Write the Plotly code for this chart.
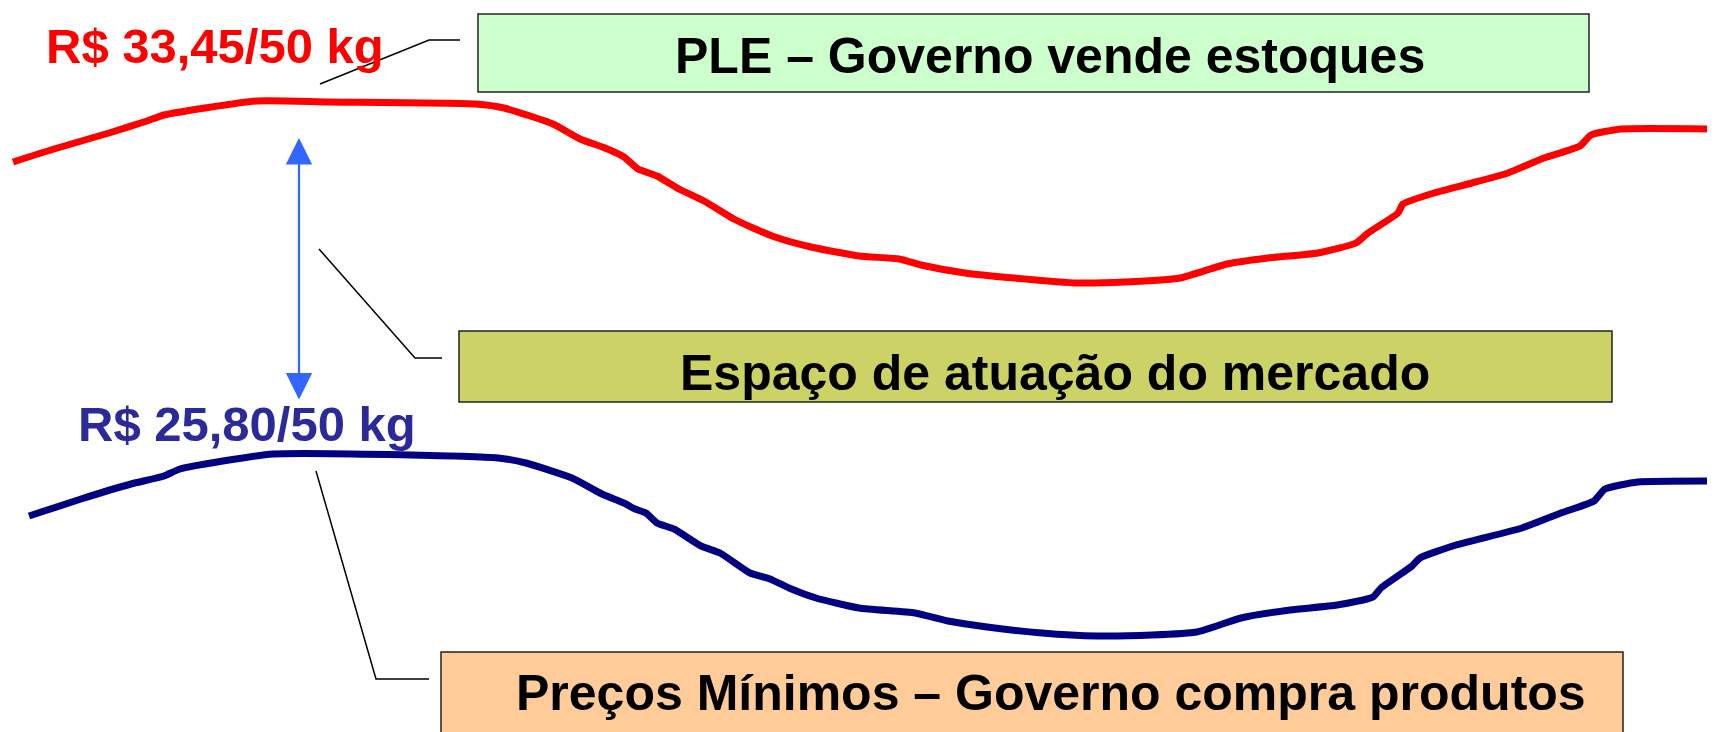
import plotly.graph_objects as go

# ---- data (x = horizontal position, y = price level, up = higher) ----
red_x = [14, 55, 110, 148, 165, 258, 329, 477, 505, 554, 581, 606, 625, 639, 658, 680, 705,
         735, 754, 779, 812, 860, 900, 922, 966, 1015, 1079, 1126, 1181, 1228, 1269, 1319,
         1357, 1369, 1399, 1404, 1435, 1473, 1509, 1545, 1581, 1592, 1622, 1713]
red_y = [571, 584, 600, 612, 618, 632, 631, 629, 625, 609, 594, 585, 576, 564, 557, 544, 532,
         514, 505, 495, 486, 477, 474, 468, 460, 455, 450, 451, 455, 469, 475, 480,
         490, 500, 520, 529, 540, 550, 560, 575, 587, 598, 604, 604]

blue_x = [30, 82, 132, 165, 181, 274, 499, 527, 573, 603, 625, 636, 647, 658, 675, 702, 721,
          751, 771, 790, 817, 860, 916, 949, 988, 1043, 1098, 1153, 1198, 1242, 1291, 1338,
          1374, 1382, 1413, 1421, 1457, 1523, 1562, 1595, 1606, 1639, 1730]
blue_y = [217, 234, 249, 257, 264, 279, 275, 270, 255, 239, 230, 224, 220, 210, 204, 187, 180,
          160, 154, 145, 135, 125, 120, 112, 106, 100, 97, 98, 101, 115, 123, 128,
          136, 145, 167, 175, 188, 205, 220, 232, 244, 251, 252]

label_top = "R$ 33,45/50 kg"
label_bottom = "R$ 25,80/50 kg"
box_texts = ["PLE – Governo vende estoques",
             "Espaço de atuação do mercado",
             "Preços Mínimos – Governo compra produtos"]

W, H = 1715, 732
FONT = "Arial, Liberation Sans, Helvetica, sans-serif"

fig = go.Figure()
fig.add_trace(go.Scatter(x=red_x, y=red_y, mode="lines",
                         line=dict(color="#FF0000", width=7, shape="spline", smoothing=0.5),
                         hoverinfo="skip", showlegend=False))
fig.add_trace(go.Scatter(x=blue_x, y=blue_y, mode="lines",
                         line=dict(color="#000080", width=7, shape="spline", smoothing=0.5),
                         hoverinfo="skip", showlegend=False))

# boxes
boxes = [
    dict(x0=479, x1=1590, y0=641, y1=719, fill="#CCFFCC", tx=1051, ty=677),
    dict(x0=460, x1=1613, y0=331, y1=402, fill="#CCD266", tx=1056, ty=360),
    dict(x0=442, x1=1624, y0=-20, y1=81, fill="#FFCC99", tx=1052, ty=40),
]
shapes = []
annotations = []
for b, t in zip(boxes, box_texts):
    shapes.append(dict(type="rect", xref="x", yref="y", x0=b["x0"], x1=b["x1"], y0=b["y0"], y1=b["y1"],
                       fillcolor=b["fill"], line=dict(color="#222222", width=1.5), layer="below"))
    annotations.append(dict(x=b["tx"], y=b["ty"], xref="x", yref="y", text="<b>" + t + "</b>",
                            showarrow=False, font=dict(family=FONT, size=50, color="#000000")))

# leader lines
shapes.append(dict(type="path", xref="x", yref="y", path="M 321 649 L 430 693 L 461 693",
                   line=dict(color="#000000", width=1.5)))
shapes.append(dict(type="path", xref="x", yref="y", path="M 320 484 L 416 375 L 443 375",
                   line=dict(color="#000000", width=1.5)))
shapes.append(dict(type="path", xref="x", yref="y", path="M 317 262 L 377 54 L 430 54",
                   line=dict(color="#000000", width=1.5)))

# double-headed arrow
annotations.append(dict(x=300, y=595, ax=300, ay=332, xref="x", yref="y", axref="x", ayref="y",
                        text="", showarrow=True, arrowhead=2, startarrowhead=2, arrowside="end+start",
                        arrowsize=2.4, startarrowsize=2.4, arrowwidth=2.2, arrowcolor="#3366FF",
                        standoff=0, startstandoff=0))

# price labels
annotations.append(dict(x=216, y=687, xref="x", yref="y", text="<b>" + label_top + "</b>",
                        showarrow=False, font=dict(family=FONT, size=49, color="#FF0000")))
annotations.append(dict(x=248, y=309, xref="x", yref="y", text="<b>" + label_bottom + "</b>",
                        showarrow=False, font=dict(family=FONT, size=49, color="#2B2A9A")))

fig.update_layout(
    width=W, height=H,
    margin=dict(l=0, r=0, t=0, b=0),
    paper_bgcolor="white", plot_bgcolor="white",
    xaxis=dict(range=[9, W + 9], visible=False, fixedrange=True),
    yaxis=dict(range=[-7, H - 7], visible=False, fixedrange=True),
    shapes=shapes, annotations=annotations,
    showlegend=False,
)
fig.write_html("out.html")
